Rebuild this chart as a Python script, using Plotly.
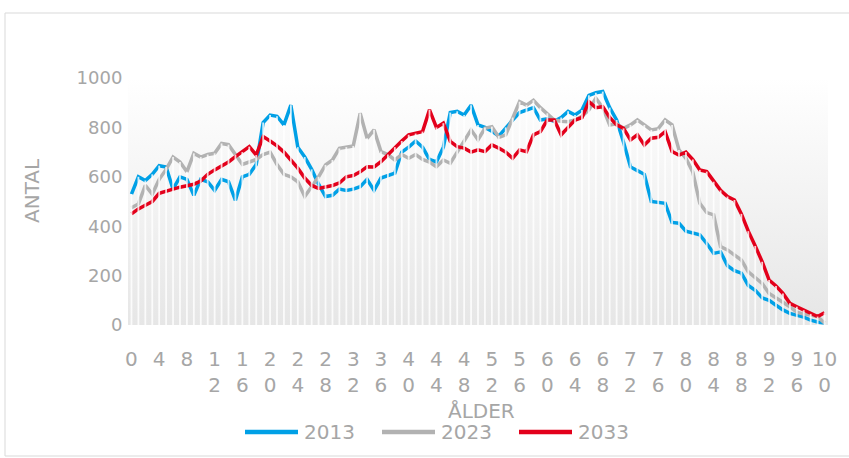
import base64
import plotly.graph_objects as go

AGES = list(range(101))
SERIES_NAMES = ["2013", "2023", "2033"]

V2013 = [530, 600, 585, 610, 645, 640, 550, 600, 590, 525,
         590, 580, 545, 590, 580, 505, 600, 610, 650, 820,
         850, 845, 810, 890, 720, 680, 630, 570, 520, 525,
         550, 545, 550, 560, 590, 545, 595, 605, 615, 700,
         720, 745, 720, 670, 660, 720, 860, 865, 850, 890,
         810, 800, 785, 765, 800, 830, 860, 870, 880, 830,
         835, 825, 840, 865, 850, 870, 930, 940, 945, 880,
         830, 740, 640, 625, 610, 500, 495, 493, 415, 412,
         380, 372, 365, 330, 290, 296, 240, 220, 210, 160,
         140, 110, 100, 80, 61, 47, 40, 32, 20, 12, 8]

V2023 = [475, 490, 565, 530, 590, 630, 680, 660, 620, 695,
         680, 690, 695, 735, 730, 690, 650, 660, 670, 690,
         700, 650, 610, 600, 580, 520, 560, 600, 648, 668,
         715, 720, 725, 857, 756, 790, 702, 690, 668, 690,
         675, 690, 670, 660, 641, 668, 655, 700, 742, 790,
         750, 796, 803, 760, 770, 840, 904, 890, 910, 880,
         857, 830, 825, 823, 830, 845, 871, 918, 880, 810,
         815, 796, 810, 830, 810, 790, 795, 830, 810, 709,
         675, 618, 493, 455, 446, 317, 304, 285, 263, 215,
         190, 168, 128, 110, 95, 74, 52, 44, 40, 34, 8]

V2033 = [450, 470, 485, 500, 533, 540, 550, 558, 565, 570,
         583, 610, 628, 645, 660, 682, 700, 722, 688, 763,
         745, 725, 700, 670, 635, 595, 565, 553, 558, 565,
         575, 600, 605, 620, 641, 640, 661, 690, 720, 745,
         770, 775, 783, 871, 800, 817, 743, 722, 716, 700,
         709, 702, 729, 716, 700, 675, 709, 702, 770, 783,
         830, 830, 770, 800, 830, 840, 904, 880, 884, 840,
         810, 796, 749, 770, 729, 756, 760, 783, 702, 688,
         700, 670, 628, 621, 580, 545, 520, 506, 450, 380,
         320, 256, 182, 158, 128, 88, 74, 60, 45, 34, 50]

SERIES = [V2013, V2023, V2033]
COLORS = ["#00a0e6", "#b2b2b2", "#e3001b"]
YTICKS = [0, 200, 400, 600, 800, 1000]
XTICK_VALS = list(range(0, 101, 4))
XTICK_TEXT = [str(v) if v < 10 else str(v)[:-1] + "<br>" + str(v)[-1] for v in XTICK_VALS]

TEXT_COLOR = "#a6a6a6"
FONT = "DejaVu Sans"

fig = go.Figure()

for name, vals, col in zip(SERIES_NAMES, SERIES, COLORS):
    fig.add_trace(go.Scatter(x=AGES, y=vals, mode="lines", name=name,
                             line=dict(color=col, width=3.5), showlegend=False,
                             hoverinfo="skip"))

# drop lines (white vertical lines from the top value at each age down to the axis)
dx, dy = [], []
for i, a in enumerate(AGES):
    top = max(V2013[i], V2023[i], V2033[i])
    dx += [a, a, None]
    dy += [0, top, None]
fig.add_trace(go.Scatter(x=dx, y=dy, mode="lines", showlegend=False, hoverinfo="skip",
                         line=dict(color="rgba(255,255,255,0.8)", width=1.8)))

svg = ('<svg xmlns="http://www.w3.org/2000/svg" width="100" height="100" preserveAspectRatio="none">'
       '<defs><linearGradient id="g" x1="0" y1="0" x2="0" y2="1">'
       '<stop offset="0" stop-color="#ffffff"/><stop offset="1" stop-color="#e6e6e6"/>'
       '</linearGradient></defs><rect width="100" height="100" fill="url(#g)"/></svg>')
src = "data:image/svg+xml;base64," + base64.b64encode(svg.encode()).decode()

L, T, W, H = 128, 78, 700, 247
FW, FH = 849, 458

def px(x):
    return (x - L) / W

def py(y):
    return (T + H - y) / H

shapes = [
    dict(type="rect", xref="paper", yref="paper", x0=px(5), x1=px(860), y0=py(456), y1=py(13),
         line=dict(color="#d9d9d9", width=1), fillcolor="rgba(0,0,0,0)", layer="below"),
]
annotations = []
leg_line_x = [245, 382, 519]
for name, col, lx in zip(SERIES_NAMES, COLORS, leg_line_x):
    shapes.append(dict(type="line", xref="paper", yref="paper", x0=px(lx), x1=px(lx + 53),
                       y0=py(432), y1=py(432), line=dict(color=col, width=4.5)))
    annotations.append(dict(text=name, xref="paper", yref="paper", x=px(lx + 57), y=py(432),
                            xanchor="left", yanchor="middle", showarrow=False,
                            font=dict(family=FONT, size=20, color=TEXT_COLOR)))

annotations.append(dict(text="ÅLDER", xref="paper", yref="paper", x=px(481), y=py(411),
                        xanchor="center", yanchor="middle", showarrow=False,
                        font=dict(family=FONT, size=20, color=TEXT_COLOR)))
annotations.append(dict(text="ANTAL", xref="paper", yref="paper", x=px(32), y=py(191),
                        xanchor="center", yanchor="middle", showarrow=False, textangle=-90,
                        font=dict(family=FONT, size=20, color=TEXT_COLOR)))

fig.update_layout(
    width=FW, height=FH,
    margin=dict(l=L, r=FW - L - W, t=T, b=FH - T - H, pad=0),
    paper_bgcolor="white", plot_bgcolor="rgba(0,0,0,0)",
    images=[dict(source=src, xref="paper", yref="paper", x=0, y=1, sizex=1, sizey=1,
                 sizing="stretch", xanchor="left", yanchor="top", layer="below")],
    shapes=shapes, annotations=annotations,
    showlegend=False,
    font=dict(family=FONT, color=TEXT_COLOR),
)
fig.update_xaxes(range=[-0.5, 100.5], tickmode="array", tickvals=XTICK_VALS, ticktext=XTICK_TEXT,
                 showgrid=False, zeroline=False, showline=False,
                 ticks="outside", ticklen=16, tickcolor="rgba(0,0,0,0)",
                 tickfont=dict(family=FONT, size=20, color=TEXT_COLOR))
fig.update_yaxes(range=[0, 1000], tickmode="array", tickvals=YTICKS,
                 showgrid=False, zeroline=False, showline=False,
                 ticks="outside", ticklen=1, tickcolor="rgba(0,0,0,0)",
                 tickfont=dict(family=FONT, size=18, color=TEXT_COLOR))

fig.write_html("out.html", config={"displayModeBar": False},
               post_script="document.body.style.margin='0';document.body.style.overflow='hidden';")
